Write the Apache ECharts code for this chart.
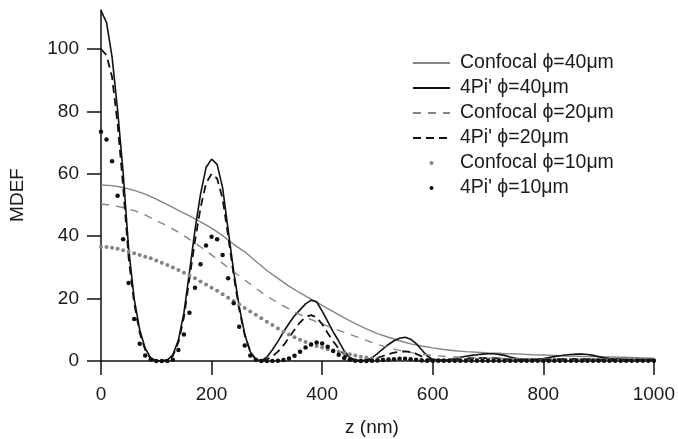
<!DOCTYPE html>
<html>
<head>
<meta charset="utf-8">
<script src="https://cdn.jsdelivr.net/npm/echarts@6/dist/echarts.min.js"></script>
<style>
html,body{margin:0;padding:0;background:#fff;}
#c{width:678px;height:439px;}
</style>
</head>
<body>
<div id="c"></div>
<script>
// sampling positions (nm)
const zFine = [0,10,20,30,40,50,60,70,80,90,100,110,120,130,140,150,160,170,180,190,200,210,220,230,240,250,260,270,280,290,300,310,320,330,340,350,360,370,380,390,400,410,420,430,440,450,460,470,480,490,500,510,520,530,540,550,560,570,580,590,600,610,620,630,640,650,660,670,680,690,700,710,720,730,740,750,760,770,780,790,800,810,820,830,840,850,860,870,880,890,900,910,920,930,940,950,960,970,980,990,1000];
const zCoarse = [0,20,40,60,80,100,120,140,160,180,200,220,240,260,280,300,320,340,360,380,400,420,440,460,480,500,520,540,560,580,600,620,640,660,680,700,720,740,760,780,800,820,840,860,880,900,920,940,960,980,1000];

// series values (MDEF)
const confocal40 = [56.4,56.2,55.6,54.7,53.5,51.9,50.1,48.3,46.5,44.6,42.6,40.2,37.4,35.0,32.0,29.0,26.5,24.0,21.8,19.8,17.8,15.8,13.8,12.0,10.3,8.8,7.6,6.5,5.5,4.8,4.2,3.7,3.3,3.0,2.8,2.6,2.5,2.3,2.2,2.0,1.9,1.8,1.6,1.5,1.4,1.4,1.3,1.2,1.1,1.0,0.9];
const confocal20 = [50.3,49.9,49.2,48.2,46.8,45.0,43.3,41.3,39.0,36.6,34.0,31.3,28.6,26.0,23.3,20.8,18.6,16.7,14.9,13.3,11.9,10.5,9.2,7.9,6.6,5.3,4.3,3.4,2.7,2.2,1.8,1.5,1.3,1.1,1.0,0.9,0.8,0.8,0.7,0.7,0.7,0.6,0.6,0.6,0.6,0.5,0.5,0.5,0.5,0.5,0.5];
const pi40 = [112.3,108.5,97.5,80.5,60.5,36,20,10,4,1,0.1,0,0.3,2,6.7,15.5,28.5,42,53.5,62,64.7,63,55.5,42,28.7,17.4,8.6,3,0.5,0.1,1.2,3.6,6.3,9.3,12,14.5,16.4,18.3,19.5,19,16,12.7,9.3,6.4,3.2,1.1,0.3,0.1,0.3,1,2.4,3.9,5.3,6.5,7.3,7.6,7,5.6,3.6,1.6,0.6,0.3,0.3,0.5,0.8,1.2,1.5,1.8,2,2.2,2.3,2.3,2.1,1.8,1.3,0.9,0.6,0.5,0.5,0.6,0.8,1.1,1.4,1.7,1.9,2.1,2.2,2.2,2.1,1.8,1.4,1.0,0.8,0.7,0.6,0.5,0.5,0.5,0.5,0.5,0.5];
const pi20 = [100,98,91,76,56,33,18.5,9,3.5,0.7,0,0,0.2,1.6,6,14,26.5,38.5,49,57,60,58.5,52,40,27.5,16.5,8.3,3,0.5,0,0.5,1.5,3,5,7.5,10,12.4,14.1,14.7,14,11.8,9,6.3,4,2,0.8,0.2,0.1,0.2,0.5,1,1.6,2.2,2.7,3,3.1,2.9,2.3,1.5,0.8,0.4,0.3,0.3,0.4,0.5,0.6,0.7,0.8,0.9,0.9,0.9,0.9,0.8,0.7,0.5,0.4,0.4,0.4,0.4,0.4,0.5,0.5,0.6,0.6,0.7,0.7,0.7,0.7,0.6,0.6,0.5,0.4,0.4,0.4,0.4,0.4,0.4,0.4,0.4,0.4,0.4];
const confocal10 = [36.6,36.5,36.3,36,35.5,35,34.5,34,33.4,32.9,32.2,31.5,30.8,30,29.2,28.3,27.4,26.5,25.5,24.5,23.5,22.5,21.4,20.3,19.2,18.1,17,15.9,14.8,13.7,12.6,11.5,10.4,9.4,8.5,7.6,6.8,6.1,5.4,4.8,4.3,3.8,3.4,3.0,2.6,2.2,1.8,1.4,1.1,0.8,0.6,0.5,0.4,0.3,0.3,0.3,0.3,0.3,0.3,0.3,0.3,0.3,0.3,0.3,0.3,0.3,0.3,0.3,0.3,0.3,0.3,0.3,0.3,0.3,0.3,0.3,0.3,0.3,0.3,0.3,0.3,0.3,0.3,0.3,0.3,0.3,0.3,0.3,0.3,0.3,0.3,0.3,0.3,0.3,0.3,0.3,0.3,0.3,0.3,0.3,0.3];
const pi10 = [73.5,71,64,53,39,25,13.5,5.5,1.8,0.5,0,0,0,0.4,3.5,8.5,15.5,23.5,31,37,39.8,39,34,26.5,18.5,11,5,1.8,0.4,0,0,0,0.1,0.3,0.8,1.7,3,4.3,5.3,5.9,5.6,4.6,3.2,2,1,0.4,0.1,0,0,0.1,0.2,0.3,0.5,0.6,0.7,0.7,0.6,0.4,0.2,0.1,0.1,0.1,0.1,0.1,0.1,0.1,0.1,0.1,0.1,0.1,0.1,0.1,0.1,0.1,0.1,0.1,0.1,0.1,0.1,0.1,0.1,0.1,0.1,0.1,0.1,0.1,0.1,0.1,0.1,0.1,0.1,0.1,0.1,0.1,0.1,0.1,0.1,0.1,0.1,0.1,0.1];

const seriesNames = ['Confocal \u03D5=40\u03BCm', "4Pi' \u03D5=40\u03BCm", 'Confocal \u03D5=20\u03BCm', "4Pi' \u03D5=20\u03BCm", 'Confocal \u03D5=10\u03BCm', "4Pi' \u03D5=10\u03BCm"];
const xTicks = [0,200,400,600,800,1000];
const yTicks = [0,20,40,60,80,100];
const xTitle = 'z (nm)';
const yTitle = 'MDEF';

const pair = (xs, ys) => xs.map((x, i) => [x, ys[i]]);
const FONT = 'Liberation Sans';
const GRAY = '#858585';
const BLACK = '#111';
const plain = v => String(v);

const chart = echarts.init(document.getElementById('c'));
chart.setOption({
  animation: false,
  backgroundColor: '#fff',
  grid: {left: 101, right: 24, top: 10, bottom: 78},
  xAxis: {
    type: 'value', min: 0, max: 1000, interval: 200,
    axisLine: {lineStyle: {color: BLACK, width: 1.5}},
    axisTick: {show: true, length: 14, inside: false, lineStyle: {color: BLACK, width: 1.5}, customValues: xTicks},
    axisLabel: {margin: 24, fontFamily: FONT, fontSize: 19, color: '#1a1a1a', customValues: xTicks, formatter: plain},
    splitLine: {show: false}
  },
  yAxis: {
    type: 'value', min: 0, max: 112.5,
    axisLine: {show: true, lineStyle: {color: BLACK, width: 1.5}},
    axisTick: {show: true, length: 14, inside: false, lineStyle: {color: BLACK, width: 1.5}, customValues: yTicks},
    axisLabel: {margin: 22, fontFamily: FONT, fontSize: 19, color: '#1a1a1a', customValues: yTicks, formatter: plain},
    splitLine: {show: false}
  },
  legend: {
    orient: 'vertical', left: 412, top: 53, padding: 0, itemWidth: 37, itemHeight: 5, itemGap: 5,
    selectedMode: false,
    textStyle: {fontFamily: FONT, fontSize: 19.5, color: '#1a1a1a', lineHeight: 20, padding: [0,0,0,5]},
    data: [
      {name: seriesNames[0], itemStyle: {opacity: 0}},
      {name: seriesNames[1], itemStyle: {opacity: 0}},
      {name: seriesNames[2], itemStyle: {opacity: 0}},
      {name: seriesNames[3], itemStyle: {opacity: 0}},
      {name: seriesNames[4]},
      {name: seriesNames[5]}
    ]
  },
  graphic: [
    {type: 'text', x: 17.5, y: 195, rotation: Math.PI / 2,
     style: {text: yTitle, fontFamily: FONT, fontSize: 19, fill: '#1a1a1a', align: 'center', verticalAlign: 'middle'}},
    {type: 'text', x: 372, y: 428,
     style: {text: xTitle, fontFamily: FONT, fontSize: 19, fill: '#1a1a1a', align: 'center', verticalAlign: 'middle'}}
  ],
  series: [
    {name: seriesNames[0], type: 'line', symbol: 'none', data: pair(zCoarse, confocal40),
     itemStyle: {color: GRAY}, lineStyle: {color: GRAY, width: 1.4}},
    {name: seriesNames[1], type: 'line', symbol: 'none', data: pair(zFine, pi40),
     itemStyle: {color: BLACK}, lineStyle: {color: BLACK, width: 1.6}},
    {name: seriesNames[2], type: 'line', symbol: 'none', data: pair(zCoarse, confocal20),
     itemStyle: {color: GRAY}, lineStyle: {color: GRAY, width: 1.4, type: [8, 7]}},
    {name: seriesNames[3], type: 'line', symbol: 'none', data: pair(zFine, pi20),
     itemStyle: {color: BLACK}, lineStyle: {color: BLACK, width: 1.8, type: [8, 5]}},
    {name: seriesNames[4], type: 'line', symbol: 'circle', symbolSize: 4, showSymbol: true,
     data: pair(zFine, confocal10),
     itemStyle: {color: GRAY, borderWidth: 0}, lineStyle: {width: 0, opacity: 0}},
    {name: seriesNames[5], type: 'line', symbol: 'circle', symbolSize: 4.5, showSymbol: true,
     data: pair(zFine, pi10),
     itemStyle: {color: BLACK, borderWidth: 0}, lineStyle: {width: 0, opacity: 0}}
  ]
});
</script>
</body>
</html>
